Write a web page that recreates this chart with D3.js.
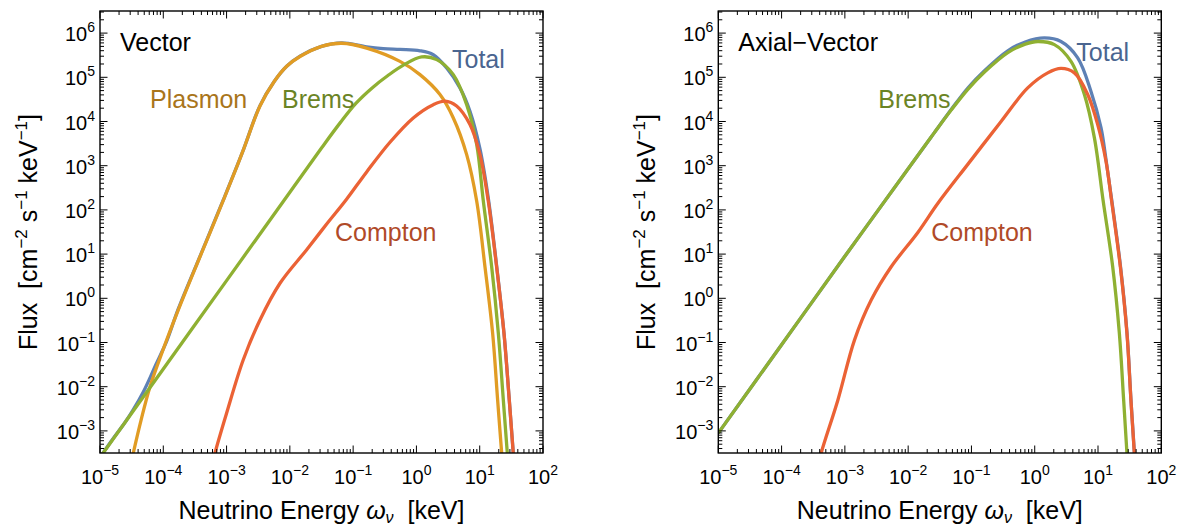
<!DOCTYPE html>
<html><head><meta charset="utf-8">
<script src="https://cdn.jsdelivr.net/npm/d3@7"></script>
<style>
html,body{margin:0;padding:0;background:#fff;}
svg{display:block;font-family:"Liberation Sans",Arial,Helvetica,sans-serif;}
</style></head><body>
<svg id="chart" width="1184" height="528"></svg>
<script>
// Values are [log10(E / keV), log10(flux)]
const xTickExps = [-5, -4, -3, -2, -1, 0, 1, 2];
const yTickExps = [-3, -2, -1, 0, 1, 2, 3, 4, 5, 6];

const vecTotal = [[-5,-3.6],[-4.8,-3.19],[-4.6,-2.8],[-4.474,-2.52],[-4.316,-2.12],[-4.21,-1.8],[-4.13,-1.54],[-3.946,-0.97],[-3.763,-0.24],[-3.42,0.95],[-3.05,2.23],[-2.75,3.3],[-2.472,4.36],[-2.25,4.9],[-2.05,5.25],[-1.84,5.48],[-1.5,5.7],[-1.18,5.78],[-0.786,5.69],[-0.524,5.65],[-0.26,5.63],[0.056,5.6],[0.266,5.51],[0.478,5.21],[0.688,4.76],[0.846,4.23],[1.004,3.38],[1.135,2.27],[1.267,0.74],[1.383,-0.78],[1.467,-2.3],[1.53,-3.5],[1.56,-4]];
const vecPlasmon = [[-4.52,-3.8],[-4.474,-3.5],[-4.35,-2.75],[-4.21,-2.0],[-4.0,-1.15],[-3.763,-0.264],[-3.42,0.94],[-3.05,2.22],[-2.75,3.3],[-2.472,4.35],[-2.25,4.9],[-2.05,5.25],[-1.84,5.47],[-1.5,5.7],[-1.18,5.77],[-0.786,5.66],[-0.26,5.36],[0.056,5.06],[0.372,4.61],[0.583,4.08],[0.794,3.25],[0.952,2.2],[1.083,0.714],[1.204,-0.79],[1.283,-2.3],[1.347,-3.5],[1.37,-3.9]];
const vecBrems = [[-5,-3.6],[-4,-1.6],[-3,0.4],[-2,2.4],[-1.5,3.4],[-1.2,3.98],[-0.95,4.42],[-0.7,4.76],[-0.45,5.04],[-0.2,5.28],[0.083,5.46],[0.32,5.4],[0.583,5.06],[0.794,4.38],[0.952,3.48],[1.057,2.2],[1.189,0.714],[1.294,-0.79],[1.373,-2.3],[1.436,-3.5],[1.46,-3.9]];
const vecCompton = [[-3.23,-3.8],[-3.183,-3.5],[-3.0,-2.6],[-2.736,-1.39],[-2.472,-0.49],[-2.156,0.34],[-1.734,1.1],[-1.418,1.68],[-1.11,2.23],[-0.786,2.86],[-0.418,3.53],[-0.05,4.08],[0.266,4.38],[0.451,4.46],[0.635,4.35],[0.846,3.93],[1.004,3.25],[1.135,2.2],[1.267,0.714],[1.383,-0.79],[1.467,-2.3],[1.53,-3.5],[1.555,-4]];

const axTotal = [[-5,-3.05],[-4,-1.05],[-3,0.95],[-2,2.93],[-1.6,3.72],[-1.32,4.27],[-1.05,4.77],[-0.794,5.15],[-0.426,5.6],[-0.15,5.8],[0.153,5.89],[0.415,5.81],[0.679,5.44],[0.889,4.68],[1.047,3.86],[1.126,3.14],[1.215,2.24],[1.353,0.75],[1.457,-0.76],[1.52,-2.28],[1.574,-3.48],[1.6,-4]];
const axBrems = [[-5,-3.05],[-4,-1.05],[-3,0.95],[-2,2.93],[-1.6,3.72],[-1.32,4.26],[-1.05,4.74],[-0.794,5.12],[-0.426,5.56],[-0.15,5.75],[0.047,5.81],[0.311,5.74],[0.573,5.36],[0.785,4.61],[0.943,3.63],[1.08,2.22],[1.232,0.714],[1.337,-0.79],[1.405,-2.3],[1.457,-3.5],[1.48,-4]];
const axCompton = [[-3.42,-3.8],[-3.374,-3.5],[-3.11,-2.3],[-2.847,-0.94],[-2.584,-0.04],[-2.268,0.714],[-1.847,1.49],[-1.53,2.15],[-1.058,3.03],[-0.532,4.0],[-0.111,4.76],[0.205,5.1],[0.415,5.2],[0.627,5.1],[0.837,4.61],[0.995,3.93],[1.126,3.1],[1.215,2.2],[1.353,0.714],[1.457,-0.79],[1.52,-2.3],[1.574,-3.5],[1.6,-4]];

const colors = {Total:"#5E81B5", Plasmon:"#E19C24", Brems:"#8FB032", Compton:"#EB6235"};
const labelColors = {Total:"#4A6590", Plasmon:"#A9751B", Brems:"#6B8425", Compton:"#B04A28"};

const panels = [
  {ox:100, title:"Vector",
   series:[["Total",vecTotal],["Plasmon",vecPlasmon],["Brems",vecBrems],["Compton",vecCompton]],
   labels:[["Plasmon",50,97],["Brems",182,97],["Total",352,57],["Compton",235,230]]},
  {ox:718.3, title:"Axial\u2212Vector",
   series:[["Total",axTotal],["Brems",axBrems],["Compton",axCompton]],
   labels:[["Brems",160,97],["Total",358,50],["Compton",213,230]]}
];

const W = 443, H = 442, OY = 11;
const svg = d3.select("#chart");
const x = d3.scaleLog().domain([1e-5, 1e2]).range([0, W]);
const y = d3.scaleLog().domain([Math.pow(10,-3.5), Math.pow(10,6.5)]).range([H, 0]);
const line = d3.line().x(d => x(Math.pow(10,d[0]))).y(d => y(Math.pow(10,d[1]))).curve(d3.curveCatmullRom.alpha(0.5));
const minus = e => e < 0 ? "\u2212" + (-e) : String(e);

const xMinor = [], yMinor = [];
for (let d = -5; d < 2; d++) for (let k = 2; k <= 9; k++) xMinor.push(Math.pow(10,d)*k);
for (let d = -4; d <= 6; d++) for (let k = 2; k <= 9; k++) { const v = Math.pow(10,d)*k; if (v > y.domain()[0] && v < y.domain()[1]) yMinor.push(v); }

panels.forEach((p, i) => {
  const g = svg.append("g").attr("transform", `translate(${p.ox},${OY})`);
  const cid = "clip" + i;
  svg.append("defs").append("clipPath").attr("id", cid).append("rect").attr("width", W).attr("height", H);
  const plot = g.append("g").attr("clip-path", `url(#${cid})`);
  p.series.forEach(([name, data]) => {
    plot.append("path").attr("d", line(data)).attr("fill", "none")
      .attr("stroke", colors[name]).attr("stroke-width", 3.3).attr("stroke-linejoin","round");
  });
  // ticks
  const tk = g.append("g").attr("stroke", "#000").attr("stroke-width", 1);
  const addX = (v, len) => {
    tk.append("line").attr("x1", x(v)).attr("x2", x(v)).attr("y1", H).attr("y2", H - len);
    tk.append("line").attr("x1", x(v)).attr("x2", x(v)).attr("y1", 0).attr("y2", len);
  };
  const addY = (v, len) => {
    tk.append("line").attr("y1", y(v)).attr("y2", y(v)).attr("x1", 0).attr("x2", len);
    tk.append("line").attr("y1", y(v)).attr("y2", y(v)).attr("x1", W).attr("x2", W - len);
  };
  xTickExps.forEach(e => addX(Math.pow(10,e), 7.5));
  xMinor.forEach(v => addX(v, 4));
  yTickExps.forEach(e => addY(Math.pow(10,e), 7.5));
  yMinor.forEach(v => addY(v, 4));
  g.append("rect").attr("width", W).attr("height", H).attr("fill", "none").attr("stroke", "#000").attr("stroke-width", 1.4);
  // tick labels
  xTickExps.forEach(e => {
    const t = g.append("text").attr("x", x(Math.pow(10,e))).attr("y", H + 31).attr("text-anchor", "middle").attr("font-size", 20).attr("fill","#000");
    t.append("tspan").text("10");
    t.append("tspan").attr("dy", -9).attr("font-size", 14).text(minus(e));
  });
  yTickExps.forEach(e => {
    const t = g.append("text").attr("x", -5).attr("y", y(Math.pow(10,e)) + 8).attr("text-anchor", "end").attr("font-size", 20).attr("fill","#000");
    t.append("tspan").text("10");
    t.append("tspan").attr("dy", -9).attr("font-size", 14).text(minus(e));
  });
  // axis titles
  const xt = g.append("text").attr("x", W/2).attr("y", 508).attr("text-anchor","middle").attr("font-size", 25).attr("fill","#000");
  xt.append("tspan").text("Neutrino Energy\u00A0");
  xt.append("tspan").attr("font-style","italic").text("\u03C9");
  xt.append("tspan").attr("font-style","italic").attr("font-size",16).attr("dy",4).text("\u03BD");
  xt.append("tspan").attr("dy",-4).text("\u00A0\u00A0[keV]");
  const yt = g.append("text").attr("transform", `translate(-63,${H/2}) rotate(-90)`).attr("text-anchor","middle").attr("font-size", 25).attr("fill","#000");
  yt.append("tspan").text("Flux\u00A0\u00A0[cm");
  yt.append("tspan").attr("font-size",17).attr("dy",-10).text("\u22122");
  yt.append("tspan").attr("dy",10).text("\u00A0s");
  yt.append("tspan").attr("font-size",17).attr("dy",-10).text("\u22121");
  yt.append("tspan").attr("dy",10).text("\u00A0keV");
  yt.append("tspan").attr("font-size",17).attr("dy",-10).text("\u22121");
  yt.append("tspan").attr("dy",10).text("]");
  // in-panel labels
  g.append("text").attr("x", 20).attr("y", 39.5).attr("font-size", 25).attr("fill", "#000").text(p.title);
  p.labels.forEach(([name, lx, ly]) => {
    g.append("text").attr("x", lx).attr("y", ly).attr("font-size", 25).attr("fill", labelColors[name]).text(name);
  });
});
</script>
</body></html>
